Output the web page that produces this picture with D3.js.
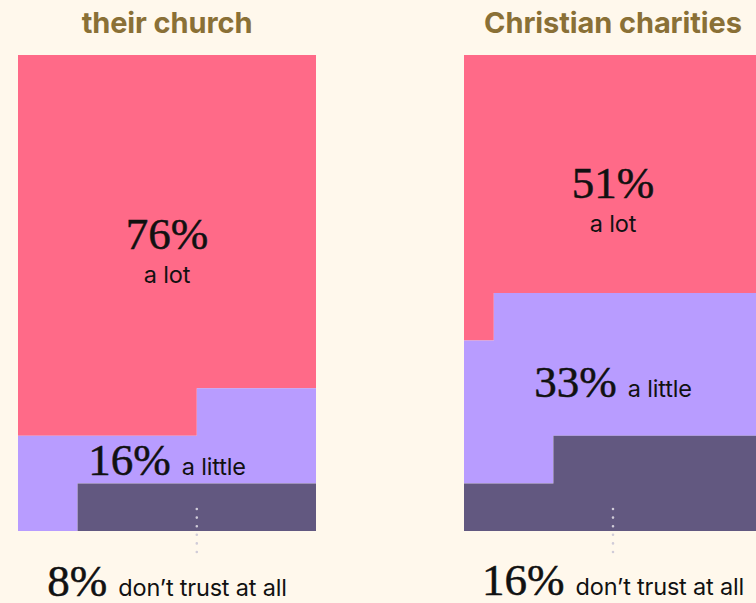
<!DOCTYPE html>
<html>
<head>
<meta charset="utf-8">
<script src="https://cdn.jsdelivr.net/npm/d3@7/dist/d3.min.js"></script>
<style>
  html, body { margin: 0; padding: 0; background: #fff8ec; }
  svg { display: block; }
</style>
</head>
<body>
<svg id="chart" width="756" height="603"></svg>
<script>
// Trust survey: share of respondents by level of trust, per institution
const institutions = ["their church", "Christian charities"];
const trustLevels = ["a lot", "a little", "don\u2019t trust at all"];
const churchValues = [76, 16, 8];
const charityValues = [50.8, 32.6, 16.3];
const levelColors = ["#ff6a88", "#b89cff", "#625880"];

const seriesValues = [churchValues, charityValues];

const W = 756, H = 603;
const gridCols = 10, gridRows = 10;
const panelW = 298;
const panelTop = 55, panelBottom = 531;
const panelLeft = [18, 464];

// label placement per panel, in grid-row units (bottom label in pixels)
const labelLayout = [
  { big: 4.08, inline: 8.83, bottom: 596 },
  { big: 3.0, inline: 7.18, bottom: 595 }
];

const svg = d3.select("#chart");
svg.append("rect").attr("width", W).attr("height", H).attr("fill", "#fff8ec");

const serif = "'Liberation Serif', 'DejaVu Serif', serif";
const sans = "Inter, 'Noto Sans', sans-serif";
const ink = "#111";

const bigNumber = sel => sel
  .attr("font-family", serif).attr("font-size", 45)
  .attr("stroke", ink).attr("stroke-width", 0.5);
const words = sel => sel
  .attr("font-family", sans).attr("font-size", 23.5).attr("letter-spacing", -0.2)
  .attr("stroke", "none");

institutions.forEach((name, p) => {
  const values = seriesValues[p];
  const x = d3.scaleLinear().domain([0, gridCols]).range([panelLeft[p], panelLeft[p] + panelW]);
  const y = d3.scaleLinear().domain([0, gridRows]).range([panelTop, panelBottom]);
  const cx = x(gridCols / 2);

  const g = svg.append("g");

  // cumulative cell boundaries (100 cells, filled row by row)
  const cum = d3.cumsum(values).map(Math.round);
  const bounds = [0, cum[0], cum[1], gridCols * gridRows];

  // one path per trust level built from row segments
  values.forEach((v, k) => {
    const start = bounds[k], end = bounds[k + 1];
    const path = d3.path();
    for (let r = 0; r < gridRows; r++) {
      const a = Math.max(start, r * gridCols), b = Math.min(end, (r + 1) * gridCols);
      if (b <= a) continue;
      path.rect(x(a - r * gridCols), y(r), x(b - r * gridCols) - x(a - r * gridCols), y(r + 1) - y(r));
    }
    g.append("path").attr("d", path.toString()).attr("fill", levelColors[k]);
  });

  // title
  svg.append("text")
    .attr("x", cx).attr("y", 33)
    .attr("text-anchor", "middle")
    .attr("font-family", sans).attr("font-weight", 700)
    .attr("font-size", 29).attr("letter-spacing", -0.1)
    .attr("fill", "#8a7036")
    .text(name);

  const fmt = v => Math.round(v) + "%";

  // "a lot" label: number stacked above the words
  svg.append("text")
    .attr("x", cx).attr("y", y(labelLayout[p].big))
    .attr("text-anchor", "middle").attr("fill", ink)
    .call(bigNumber)
    .text(fmt(values[0]));
  svg.append("text")
    .attr("x", cx).attr("y", y(labelLayout[p].big) + 34)
    .attr("text-anchor", "middle").attr("fill", ink)
    .call(words)
    .text(trustLevels[0]);

  // inline labels: number followed by words
  const inline = (yy, k) => {
    const t = svg.append("text")
      .attr("x", cx).attr("y", yy)
      .attr("text-anchor", "middle").attr("fill", ink);
    t.append("tspan").call(bigNumber).text(fmt(values[k]));
    t.append("tspan").attr("dx", 11).call(words).text(trustLevels[k]);
  };
  inline(y(labelLayout[p].inline), 1);
  inline(labelLayout[p].bottom, 2);

  // dotted leader from the bottom row of "don't trust" cells to its label
  const lastRow = gridRows - 1;
  const darkStart = Math.max(bounds[2], lastRow * gridCols) - lastRow * gridCols;
  const dotX = x((darkStart + gridCols) / 2);
  svg.append("line")
    .attr("x1", dotX).attr("x2", dotX)
    .attr("y1", 509).attr("y2", 553)
    .attr("stroke", "#d0ccd8").attr("stroke-width", 2.6)
    .attr("stroke-linecap", "round").attr("stroke-dasharray", "0 8.6");
});
</script>
</body>
</html>
